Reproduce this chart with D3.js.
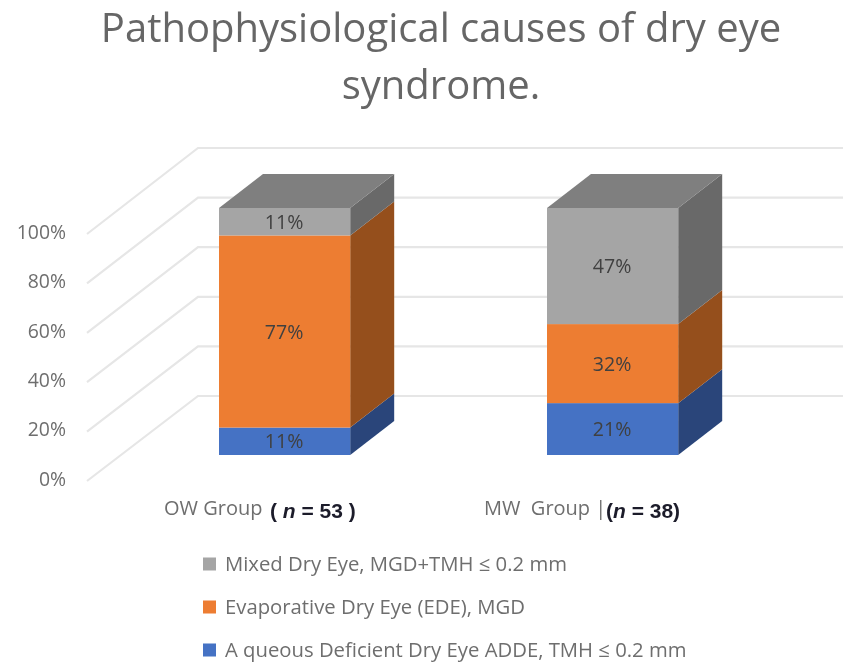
<!DOCTYPE html>
<html>
<head>
<meta charset="utf-8">
<script src="https://cdn.jsdelivr.net/npm/d3@7"></script>
<style>
  html, body { margin: 0; padding: 0; background: #fff; }
  svg { display: block; }
  text { font-family: "Open Sans", sans-serif; white-space: pre; }
</style>
</head>
<body>
<div id="chart"></div>
<script>
// ------- Data -------
const groups = ["OW", "MW"];
const seriesNames = ["Aqueous", "Evaporative", "Mixed"];
const aqueousValues = [11, 21];
const evaporativeValues = [77, 32];
const mixedValues = [11, 47];
const yTicks = [0, 0.2, 0.4, 0.6, 0.8, 1];
const titleLines = ["Pathophysiological causes of dry eye", "syndrome."];
const groupLabels = ["OW Group", "MW  Group |"];
const groupNotes = [["( ", "n", " = 53 )"], ["(", "n", " = 38)"]];
const legendLabels = [
  "Mixed Dry Eye, MGD+TMH ≤ 0.2 mm",
  "Evaporative Dry Eye (EDE), MGD",
  "A queous Deficient Dry Eye ADDE, TMH ≤ 0.2 mm"
];

const width = 843, height = 663;
const frontColor = { Aqueous: "#4472c4", Evaporative: "#ed7d31", Mixed: "#a5a5a5" };
const sideColor = { Aqueous: "#29457a", Evaporative: "#954f1c", Mixed: "#696969" };
const topColor = "#7f7f7f";
const legendColors = ["#a5a5a5", "#ed7d31", "#4472c4"];

const svg = d3.select("#chart").append("svg")
  .attr("width", width)
  .attr("height", height);

// the reference is a slightly soft screenshot
svg.append("filter").attr("id", "soft")
  .append("feGaussianBlur").attr("stdDeviation", 0.5);

const root = svg.append("g").attr("filter", "url(#soft)");

// ------- Title -------
root.append("g").selectAll("text")
  .data(titleLines)
  .enter().append("text")
  .attr("x", 441)
  .attr("y", (d, i) => 42 + i * 57)
  .attr("text-anchor", "middle")
  .attr("font-size", 40)
  .attr("fill", "#666")
  .text(d => d);

// ------- Scales -------
const yBar = d3.scaleLinear().domain([0, 1]).range([455, 208]);
const yFront = d3.scaleLinear().domain([0, 1]).range([481, 234]);
const yBack = d3.scaleLinear().domain([0, 1]).range([396, 148]);
const x = d3.scaleBand().domain(groups).range([120.6, 776.6]).paddingInner(0.6).paddingOuter(0.3);

const wallFrontX = 87, wallBackX = 198, wallRightX = 843;
const depthX = 44, depthY = 34;

// ------- Gridlines on the floor/wall -------
const gridLine = d3.line();
root.append("g").selectAll("path")
  .data(yTicks)
  .enter().append("path")
  .attr("d", t => gridLine([
    [wallFrontX, yFront(t)],
    [wallBackX, yBack(t)],
    [wallRightX, yBack(t)]
  ]))
  .attr("fill", "none")
  .attr("stroke", "#e6e6e6")
  .attr("stroke-width", 2.2);

// ------- Axis labels -------
const axis = root.append("g")
  .attr("transform", "translate(66,-2)")
  .call(d3.axisLeft(yFront).tickValues(yTicks).tickSize(0).tickPadding(0).tickFormat(d3.format(".0%")));
axis.select(".domain").remove();
axis.selectAll("text")
  .attr("font-size", 19.4)
  .attr("fill", "#6e6e6e")
  .style("font-family", '"Open Sans", sans-serif');

// ------- Stacked 3D bars -------
const rows = groups.map((g, i) => ({
  group: g,
  Aqueous: aqueousValues[i],
  Evaporative: evaporativeValues[i],
  Mixed: mixedValues[i]
}));
const stack = d3.stack().keys(seriesNames).offset(d3.stackOffsetExpand);
const stacked = stack(rows);

stacked.forEach(layer => {
  const g = root.append("g");
  layer.forEach(d => {
    const x0 = x(d.data.group), x1 = x0 + x.bandwidth();
    const y0 = yBar(d[0]), y1 = yBar(d[1]);
    g.append("polygon")
      .attr("points", [[x1, y0], [x1 + depthX, y0 - depthY], [x1 + depthX, y1 - depthY], [x1, y1]].join(" "))
      .attr("fill", sideColor[layer.key]);
    g.append("rect")
      .attr("x", x0).attr("y", y1)
      .attr("width", x.bandwidth()).attr("height", y0 - y1)
      .attr("fill", frontColor[layer.key]);
    if (layer.key === "Mixed") {
      g.append("polygon")
        .attr("points", [[x0, y1], [x0 + depthX, y1 - depthY], [x1 + depthX, y1 - depthY], [x1, y1]].join(" "))
        .attr("fill", topColor);
    }
    g.append("text")
      .attr("x", (x0 + x1) / 2 - 0.5)
      .attr("y", (y0 + y1) / 2 + 7)
      .attr("text-anchor", "middle")
      .attr("font-size", 19.6)
      .attr("fill", "#404040")
      .text(d3.format(".0f")(d.data[layer.key]) + "%");
  });
});

// ------- Category labels -------
const catX = [164, 484];
const noteX = [270, 606];
groups.forEach((g, i) => {
  root.append("text")
    .attr("x", catX[i]).attr("y", 515)
    .attr("font-size", 20)
    .attr("fill", "#6e6e6e")
    .text(groupLabels[i]);
  const note = root.append("text")
    .attr("x", noteX[i]).attr("y", 518)
    .attr("font-size", 21)
    .attr("font-weight", "bold")
    .attr("fill", "#1c1c2c")
    .style("font-family", '"Liberation Sans", sans-serif');
  groupNotes[i].forEach((part, j) => {
    note.append("tspan")
      .attr("font-style", j === 1 ? "italic" : "normal")
      .text(part);
  });
});

// ------- Legend -------
const legendY = d3.scalePoint().domain(legendLabels).range([564, 650]);
const legend = root.append("g").selectAll("g")
  .data(legendLabels)
  .enter().append("g")
  .attr("transform", d => `translate(203,${legendY(d)})`);
legend.append("rect")
  .attr("y", -6.5)
  .attr("width", 13).attr("height", 13)
  .attr("fill", (d, i) => legendColors[i]);
legend.append("text")
  .attr("x", 22)
  .attr("y", 7)
  .attr("font-size", 20.3)
  .attr("fill", "#6e6e6e")
  .text(d => d);
</script>
</body>
</html>
